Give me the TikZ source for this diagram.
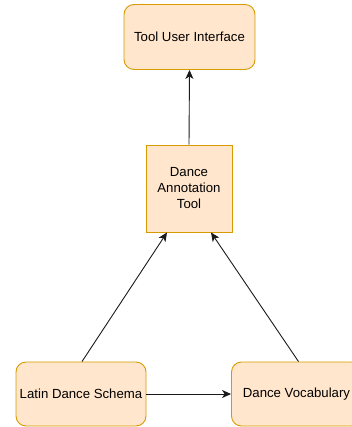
\documentclass[tikz,border=0pt]{standalone}
\usepackage{fontspec}
\setmainfont{Liberation Sans}
\usetikzlibrary{arrows.meta}
\definecolor{boxfill}{HTML}{FFE6CC}
\definecolor{boxdraw}{HTML}{D79B00}
\definecolor{linegray}{HTML}{1A1A1A}
\tikzset{
  rbox/.style={draw=boxdraw, fill=boxfill, line width=0.9pt, rounded corners=10pt, align=center, inner sep=0pt, font=\fontsize{13.2}{15.5}\selectfont},
  sbox/.style={draw=boxdraw, fill=boxfill, line width=0.9pt, align=center, inner sep=0pt, font=\fontsize{13.2}{16}\selectfont},
  conn/.style={draw=linegray, line width=0.9pt, -{Stealth[length=9pt,width=8pt,inset=2.5pt]}}
}
\begin{document}
\begin{tikzpicture}[x=1pt,y=-1pt]
\useasboundingbox (0,0) rectangle (352,427);
\node[rbox, minimum width=131pt, minimum height=65pt] (tui) at (189.5,37) {Tool User Interface};
\node[sbox, minimum width=86pt, minimum height=87pt] (dat) at (189,188.5) {Dance\\Annotation\\Tool};
\node[rbox, minimum width=130pt, minimum height=64pt] (lds) at (81,394) {Latin Dance Schema};
\node[rbox, minimum width=130pt, minimum height=64pt] (dv) at (296.5,394) {Dance Vocabulary};
\draw[conn] (dat.north) -- (tui.south);
\draw[conn] ([xshift=1pt]lds.north) -- ([xshift=-22pt]dat.south);
\draw[conn] ([xshift=2pt]dv.north) -- ([xshift=22pt]dat.south);
\draw[conn] (lds.east) -- (dv.west);
\end{tikzpicture}
\end{document}
